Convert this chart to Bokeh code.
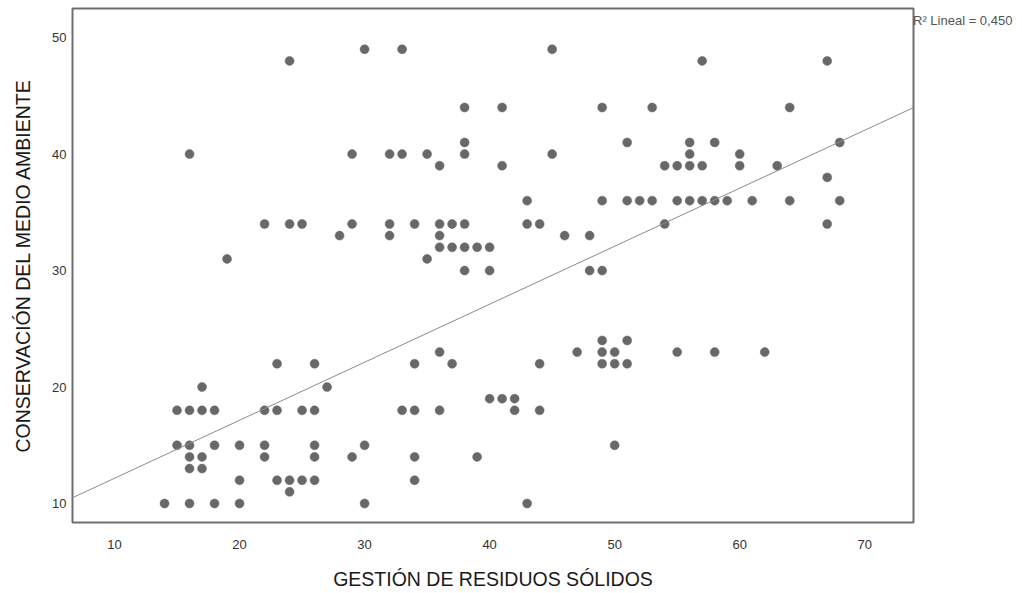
from bokeh.plotting import figure
from bokeh.models import Range1d, Slope, Legend, LegendItem, ColumnDataSource
from bokeh.embed import file_html
from bokeh.resources import INLINE

# Gestión de residuos sólidos (x) vs. conservación del medio ambiente (y)
gestion = [
    30, 33, 45,
    24, 57, 67,
    38, 41, 49, 53, 64,
    38, 51, 56, 58, 68,
    16, 29, 32, 33, 35, 38, 45, 56, 60,
    36, 41, 54, 55, 56, 57, 60, 63,
    67,
    43, 49, 51, 52, 53, 55, 56, 57, 58, 59, 61, 64, 68,
    22, 24, 25, 29, 32, 34, 36, 37, 38, 43, 44, 54, 67,
    28, 32, 36, 46, 48,
    36, 37, 38, 39, 40,
    19, 35,
    38, 40, 48, 49,
    49, 51,
    36, 47, 49, 50, 55, 58, 62,
    23, 26, 34, 37, 44, 49, 50, 51,
    17, 27,
    40, 41, 42,
    15, 16, 17, 18, 22, 23, 25, 26, 33, 34, 36, 42, 44,
    15, 16, 18, 20, 22, 26, 30, 50,
    16, 17, 22, 26, 29, 34, 39,
    16, 17,
    20, 23, 24, 25, 26, 34,
    24,
    14, 16, 18, 20, 30, 43,
]
conservacion = [
    49, 49, 49,
    48, 48, 48,
    44, 44, 44, 44, 44,
    41, 41, 41, 41, 41,
    40, 40, 40, 40, 40, 40, 40, 40, 40,
    39, 39, 39, 39, 39, 39, 39, 39,
    38,
    36, 36, 36, 36, 36, 36, 36, 36, 36, 36, 36, 36, 36,
    34, 34, 34, 34, 34, 34, 34, 34, 34, 34, 34, 34, 34,
    33, 33, 33, 33, 33,
    32, 32, 32, 32, 32,
    31, 31,
    30, 30, 30, 30,
    24, 24,
    23, 23, 23, 23, 23, 23, 23,
    22, 22, 22, 22, 22, 22, 22, 22,
    20, 20,
    19, 19, 19,
    18, 18, 18, 18, 18, 18, 18, 18, 18, 18, 18, 18, 18,
    15, 15, 15, 15, 15, 15, 15, 15,
    14, 14, 14, 14, 14, 14, 14,
    13, 13,
    12, 12, 12, 12, 12, 12,
    11,
    10, 10, 10, 10, 10, 10,
]
# linear fit of the full sample (R² = 0,450)
fit_intercept = 7.19
fit_slope = 0.498
r2_text = "R\u00b2 Lineal = 0,450"

x_ticks = [10, 20, 30, 40, 50, 60, 70]
y_ticks = [10, 20, 30, 40, 50]

FONT = "Liberation Sans Narrow, Liberation Sans, Arial, sans-serif"

p = figure(
    width=1022, height=593,
    output_backend="svg", toolbar_location=None,
    x_range=Range1d(6.64, 73.9), y_range=Range1d(8.37, 52.5),
    min_border_left=72, min_border_right=109,
    min_border_top=8, min_border_bottom=71,
    background_fill_color="white", border_fill_color="white",
)
p.frame_width = 841
p.frame_height = 514

p.xgrid.visible = False
p.ygrid.visible = False
p.outline_line_color = "#6e6e6e"
p.outline_line_width = 2

for ax in (p.xaxis, p.yaxis):
    ax.axis_line_color = None
    ax.major_tick_line_color = None
    ax.minor_tick_line_color = None
    ax.major_tick_out = 0
    ax.major_tick_in = 0
    ax.minor_tick_out = 0
    ax.minor_tick_in = 0
    ax.major_label_text_font = FONT
    ax.major_label_text_font_size = "13px"
    ax.major_label_text_color = "#333333"
    ax.axis_label_text_font = FONT
    ax.axis_label_text_font_size = "19.5px"
    ax.axis_label_text_font_style = "normal"
    ax.axis_label_text_color = "#1a1a1a"

p.xaxis.ticker = x_ticks
p.yaxis.ticker = y_ticks
p.xaxis.major_label_standoff = 17
p.yaxis.major_label_standoff = 6
p.xaxis.axis_label = "GESTIÓN DE RESIDUOS SÓLIDOS"
p.yaxis.axis_label = "CONSERVACIÓN DEL MEDIO AMBIENTE"
p.xaxis.axis_label_standoff = 16
p.yaxis.axis_label_standoff = 15

src = ColumnDataSource(dict(x=gestion, y=conservacion))
p.scatter("x", "y", source=src, size=9, fill_color="#686868",
          line_color="#686868", line_width=0.5)

p.add_layout(Slope(gradient=fit_slope, y_intercept=fit_intercept,
                   line_color="#8a8a8a", line_width=1))

# fit-line caption in the right-hand margin, next to the top of the frame
fit_key = p.line(x=[], y=[], line_alpha=0)
caption = Legend(
    items=[LegendItem(label=r2_text, renderers=[fit_key])],
    location="top_left", orientation="vertical",
    margin=0, padding=0, spacing=0,
    glyph_width=0, glyph_height=1, label_standoff=0,
    label_height=25, label_width=10,
    label_text_font=FONT, label_text_font_size="13px",
    label_text_color="#555555", label_text_baseline="middle",
    border_line_color=None, background_fill_alpha=0,
)
p.add_layout(caption, "right")

open("out.html", "w").write(file_html(p, INLINE))
